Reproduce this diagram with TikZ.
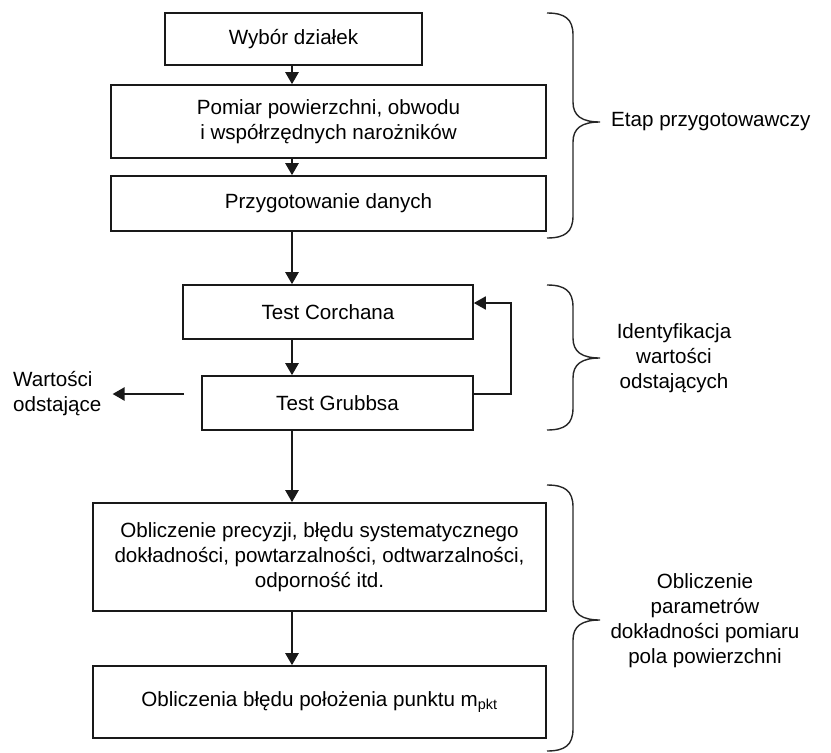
\documentclass[tikz,border=0pt]{standalone}
\usepackage{fontspec}
\setmainfont{Liberation Sans}
\usetikzlibrary{arrows.meta}
\tikzset{
  box/.style={draw=black!90, line width=1.6pt, inner sep=0pt, align=center, font=\fontsize{20.6}{25}\selectfont},
  lbl/.style={inner sep=0pt, align=center, font=\fontsize{20.6}{25}\selectfont},
  arr/.style={draw=black!90, line width=2.4pt, -{Triangle[length=12pt,width=13pt]}},
  farr/.style={draw=black!90, line width=1.8pt, -{Triangle[length=12pt,width=13pt]}},
  brc/.style={draw=black!85, line width=1.4pt}
}
\newcommand\mybrace[3]{%
  \draw[brc] (547,#1) .. controls (565,#1) and (573,#1+6) .. (573,#1+22) -- (573,#3-20)
    .. controls (573,#3-6) and (582,#3) .. (600,#3)
    .. controls (582,#3) and (573,#3+6) .. (573,#3+20) -- (573,#2-22)
    .. controls (573,#2-6) and (565,#2) .. (547,#2);}
\begin{document}
\begin{tikzpicture}[x=1pt,y=-1pt]
\useasboundingbox (0,0) rectangle (831,753);
\coordinate (spine) at (292,0);
\node[box, minimum width=257pt, minimum height=52pt] (b1) at (293.5,39) {Wybór działek};
\node[box, minimum width=435pt, minimum height=73pt] (b2) at (328.5,121.5) {Pomiar powierzchni, obwodu\\i współrzędnych narożników};
\node[box, minimum width=435pt, minimum height=55pt] (b3) at (328.5,203.5) {Przygotowanie danych};
\node[box, minimum width=290pt, minimum height=54pt] (c) at (328,312) {Test Corchana};
\node[box, minimum width=271pt, minimum height=54pt] (g) at (337.5,403) {Test Grubbsa};
\node[box, minimum width=453pt, minimum height=108pt] (b6) at (319.5,557) {Obliczenie precyzji, błędu systematycznego\\dokładności, powtarzalności, odtwarzalności,\\odporność itd.};
\node[box, minimum width=453pt, minimum height=72pt] (b7) at (319.5,702) {Obliczenia błędu położenia punktu m\textsubscript{pkt}};
\node[lbl, anchor=west, align=left] (wo) at (13,394) {Wartości\\odstające};
\coordinate (la) at (184,394);

\draw[arr] (b1.south -| spine) -- (b2.north -| spine);
\draw[arr] (b2.south -| spine) -- (b3.north -| spine);
\draw[arr] (b3.south -| spine) -- (c.north -| spine);
\draw[arr] (c.south -| spine) -- (g.north -| spine);
\draw[arr] (g.south -| spine) -- (b6.north -| spine);
\draw[arr] (b6.south -| spine) -- (b7.north -| spine);
\draw[farr] ([yshift=9pt]g.east) -- ++(37pt,0) |- ([yshift=9pt]c.east);
\draw[arr] (la) -- ([xshift=11pt]wo.east);

\mybrace{13}{238}{122}
\mybrace{285}{430}{358}
\mybrace{485}{751}{620}
\node[lbl, anchor=west] (e1) at (611,122) {Etap przygotowawczy};
\node[lbl] (e2) at (674,358) {Identyfikacja\\wartości\\odstających};
\node[lbl] (e3) at (705,621) {Obliczenie\\parametrów\\dokładności pomiaru\\pola powierzchni};
\end{tikzpicture}
\end{document}
